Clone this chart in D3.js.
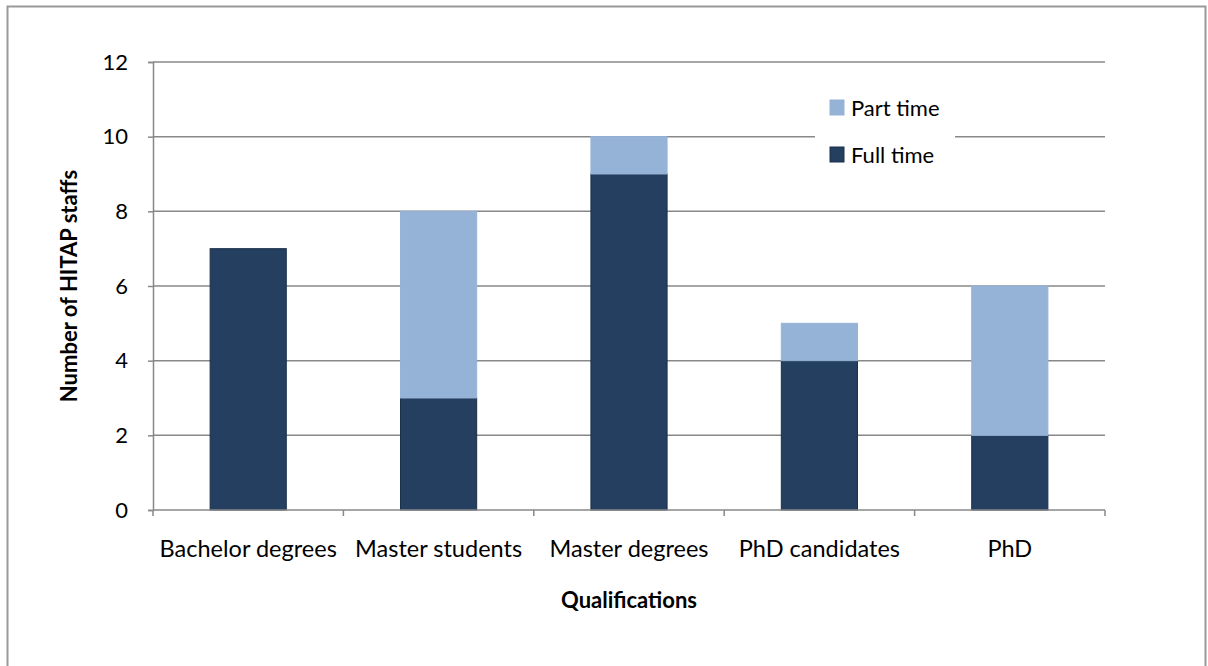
<!DOCTYPE html>
<html>
<head>
<meta charset="utf-8">
<script src="https://cdn.jsdelivr.net/npm/d3@7"></script>
<style>
  body { margin: 0; background: #fff; }
  svg { font-family: Lato, "Open Sans", sans-serif; }
</style>
</head>
<body>
<div id="chart"></div>
<script>
// Chart data
var categories = ['Bachelor degrees', 'Master students', 'Master degrees', 'PhD candidates', 'PhD'];
var fullTime = [7, 3, 9, 4, 2];
var partTime = [0, 5, 1, 1, 4];
var yTicks = [0, 2, 4, 6, 8, 10, 12];

var width = 1208, height = 666;
var margin = {top: 62, left: 153, right: 103, bottom: 156};
var plotW = width - margin.left - margin.right;
var plotH = height - margin.top - margin.bottom;
var fontSize = 22;

var svg = d3.select('#chart').append('svg')
    .attr('width', width)
    .attr('height', height);

// outer frame
svg.append('rect')
    .attr('x', 7.5).attr('y', 6.5)
    .attr('width', 1198).attr('height', 670)
    .attr('fill', 'none')
    .attr('stroke', '#999')
    .attr('stroke-width', 2);

var g = svg.append('g')
    .attr('transform', 'translate(' + margin.left + ',' + margin.top + ')');

var xScale = d3.scaleBand()
    .domain(categories)
    .range([0, plotW])
    .paddingInner(0.6)
    .paddingOuter(0.3);

var yScale = d3.scaleLinear()
    .domain([0, 12])
    .range([plotH, 0]);

// gridlines
g.append('g')
    .selectAll('line')
    .data(yTicks.slice(1))
    .enter().append('line')
    .attr('x1', 0).attr('x2', plotW)
    .attr('y1', d => yScale(d)).attr('y2', d => yScale(d))
    .attr('stroke', '#888')
    .attr('stroke-width', 1.5);

// y axis
var yAxis = g.append('g')
    .call(d3.axisLeft(yScale).tickValues(yTicks).tickSize(5).tickPadding(20));
yAxis.select('.domain').attr('stroke', '#888').attr('stroke-width', 1.5);
yAxis.selectAll('.tick line').attr('stroke', '#888').attr('stroke-width', 1.5);
yAxis.selectAll('.tick text')
    .attr('font-size', fontSize)
    .attr('font-family', 'Lato, sans-serif')
    .attr('fill', '#000');

// stacked bars
var stackData = categories.map((c, i) => ({cat: c, full: fullTime[i], part: partTime[i]}));
var series = d3.stack().keys(['full', 'part'])(stackData);
var colors = {full: '#253f61', part: '#95b3d7'};
var strokes = {full: '#1b2f4a', part: '#95b3d7'};

series.forEach(s => {
    g.selectAll('.bar-' + s.key)
        .data(s.filter(d => d[1] > d[0]))
        .enter().append('rect')
        .attr('class', 'bar-' + s.key)
        .attr('x', d => xScale(d.data.cat))
        .attr('width', xScale.bandwidth())
        .attr('y', d => yScale(d[1]))
        .attr('height', d => yScale(d[0]) - yScale(d[1]))
        .attr('fill', colors[s.key])
        .attr('stroke', strokes[s.key])
        .attr('stroke-width', 1);
});

// x axis
var xAxisG = g.append('g')
    .attr('transform', 'translate(0,' + plotH + ')');
xAxisG.append('line')
    .attr('x1', 0).attr('x2', plotW)
    .attr('stroke', '#888').attr('stroke-width', 1.5);
var step = plotW / categories.length;
xAxisG.selectAll('.xtick')
    .data(d3.range(categories.length + 1))
    .enter().append('line')
    .attr('x1', d => d * step).attr('x2', d => d * step)
    .attr('y1', 0).attr('y2', 6)
    .attr('stroke', '#888').attr('stroke-width', 1.5);
xAxisG.selectAll('.xlabel')
    .data(categories)
    .enter().append('text')
    .attr('x', d => xScale(d) + xScale.bandwidth() / 2)
    .attr('y', 47)
    .attr('text-anchor', 'middle')
    .attr('font-size', 23.5)
    .text(d => d);

// axis titles
svg.append('text')
    .attr('transform', 'translate(77,' + (margin.top + plotH / 2) + ') rotate(-90)')
    .attr('text-anchor', 'middle')
    .attr('font-size', fontSize)
    .attr('font-weight', 'bold')
    .text('Number of HITAP staffs');

svg.append('text')
    .attr('x', margin.left + plotW / 2)
    .attr('y', 608)
    .attr('text-anchor', 'middle')
    .attr('font-size', fontSize)
    .attr('font-weight', 'bold')
    .text('Qualifications');

// legend
var legend = svg.append('g').attr('transform', 'translate(815,88)');
legend.append('rect')
    .attr('width', 140).attr('height', 86)
    .attr('fill', '#fff');
var legendItems = [{label: 'Part time', key: 'part'}, {label: 'Full time', key: 'full'}];
legendItems.forEach((item, i) => {
    var row = legend.append('g').attr('transform', 'translate(15,' + (12 + i * 47) + ')');
    row.append('rect')
        .attr('width', 14).attr('height', 15)
        .attr('fill', colors[item.key])
        .attr('stroke', strokes[item.key]);
    row.append('text')
        .attr('x', 21).attr('y', 16)
        .attr('font-size', fontSize)
        .text(item.label);
});
</script>
</body>
</html>
